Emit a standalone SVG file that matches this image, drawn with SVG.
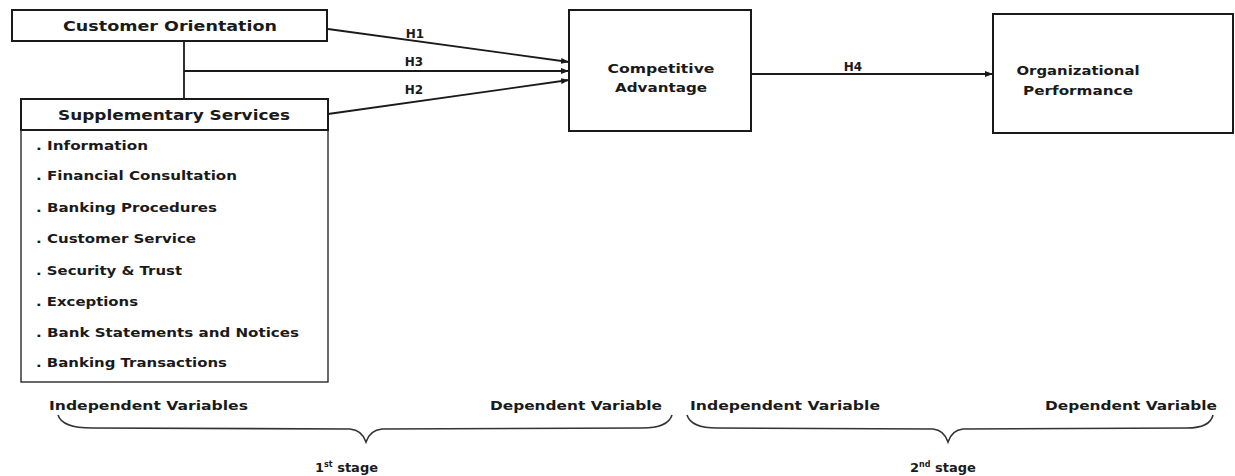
<svg xmlns="http://www.w3.org/2000/svg" width="1235" height="476" viewBox="0 0 1235 476">
<defs>
<marker id="arr" markerWidth="8" markerHeight="6" refX="8" refY="3" orient="auto" markerUnits="userSpaceOnUse">
<path d="M0,0 L8,3 L0,6 z" fill="#1a1a1a"/>
</marker>
<style>
.box{fill:#fff;stroke:#1a1a1a;stroke-width:2}
.lst{fill:#fff;stroke:#1a1a1a;stroke-width:1.3}
.t{font-family:"DejaVu Sans","Liberation Sans",sans-serif;font-weight:bold;fill:#1a1a1a}
.h{font-size:14px}
.i{font-size:12px}
.m{font-size:13px}
.c{stroke:#1a1a1a;stroke-width:1.8;fill:none}
.br{stroke:#333;stroke-width:1.6;fill:none}
</style>
</defs>
<rect width="1235" height="476" fill="#fff"/>
<g id="connectors">
<line class="c" x1="184" y1="41" x2="184" y2="99"/>
<line class="c" x1="184" y1="71" x2="569" y2="71" marker-end="url(#arr)"/>
<line class="c" x1="328" y1="29" x2="569" y2="62" marker-end="url(#arr)"/>
<line class="c" x1="328" y1="114" x2="569" y2="80" marker-end="url(#arr)"/>
<line class="c" x1="751" y1="74" x2="993" y2="74" marker-end="url(#arr)"/>
<text class="t i" x="415" y="38" text-anchor="middle">H1</text>
<text class="t i" x="414" y="66" text-anchor="middle">H3</text>
<text class="t i" x="414" y="94" text-anchor="middle">H2</text>
<text class="t i" x="853" y="71" text-anchor="middle">H4</text>
</g>
<g id="customer-orientation">
<rect class="box" x="12" y="10" width="315" height="31"/>
<text class="t h" x="170" y="31" text-anchor="middle" textLength="214" lengthAdjust="spacingAndGlyphs">Customer Orientation</text>
</g>
<g id="supplementary-services">
<rect class="lst" x="21" y="130" width="307" height="252"/>
<rect class="box" x="21" y="99" width="307" height="31"/>
<text class="t h" x="174" y="120" text-anchor="middle" textLength="232" lengthAdjust="spacingAndGlyphs">Supplementary Services</text>
<text class="t i" x="36" y="150" textLength="112" lengthAdjust="spacingAndGlyphs">. Information</text>
<text class="t i" x="36" y="180" textLength="201" lengthAdjust="spacingAndGlyphs">. Financial Consultation</text>
<text class="t i" x="36" y="212" textLength="181" lengthAdjust="spacingAndGlyphs">. Banking Procedures</text>
<text class="t i" x="36" y="243" textLength="160" lengthAdjust="spacingAndGlyphs">. Customer Service</text>
<text class="t i" x="36" y="275" textLength="146" lengthAdjust="spacingAndGlyphs">. Security &amp; Trust</text>
<text class="t i" x="36" y="306" textLength="102" lengthAdjust="spacingAndGlyphs">. Exceptions</text>
<text class="t i" x="36" y="337" textLength="263" lengthAdjust="spacingAndGlyphs">. Bank Statements and Notices</text>
<text class="t i" x="36" y="367" textLength="191" lengthAdjust="spacingAndGlyphs">. Banking Transactions</text>
</g>
<g id="competitive-advantage">
<rect class="box" x="569" y="10" width="182" height="121"/>
<text class="t m" x="661" y="73" text-anchor="middle" textLength="107" lengthAdjust="spacingAndGlyphs">Competitive</text>
<text class="t m" x="661" y="92" text-anchor="middle" textLength="92" lengthAdjust="spacingAndGlyphs">Advantage</text>
</g>
<g id="organizational-performance">
<rect class="box" x="993" y="14" width="240" height="119"/>
<text class="t m" x="1078" y="75" text-anchor="middle" textLength="123" lengthAdjust="spacingAndGlyphs">Organizational</text>
<text class="t m" x="1078" y="95" text-anchor="middle" textLength="110" lengthAdjust="spacingAndGlyphs">Performance</text>
</g>
<g id="stages">
<text class="t m" x="49" y="410" textLength="199" lengthAdjust="spacingAndGlyphs">Independent Variables</text>
<text class="t m" x="490" y="410" textLength="172" lengthAdjust="spacingAndGlyphs">Dependent Variable</text>
<text class="t m" x="690" y="410" textLength="190" lengthAdjust="spacingAndGlyphs">Independent Variable</text>
<text class="t m" x="1045" y="410" textLength="172" lengthAdjust="spacingAndGlyphs">Dependent Variable</text>
<path class="br" d="M58,415 Q62,428 92,428 L350,429 Q362,430 366,442 Q370,430 382,429 L642,428 Q668,428 672,415"/>
<path class="br" d="M687,415 Q691,428 717,428 L933,429 Q944,430 948,442 Q952,430 963,429 L1187,428 Q1210,428 1213,415"/>
<text class="t m" x="315" y="472">1<tspan font-size="8" dy="-5">st</tspan><tspan dy="5"> stage</tspan></text>
<text class="t m" x="910" y="472">2<tspan font-size="8" dy="-5">nd</tspan><tspan dy="5"> stage</tspan></text>
</g>
</svg>
